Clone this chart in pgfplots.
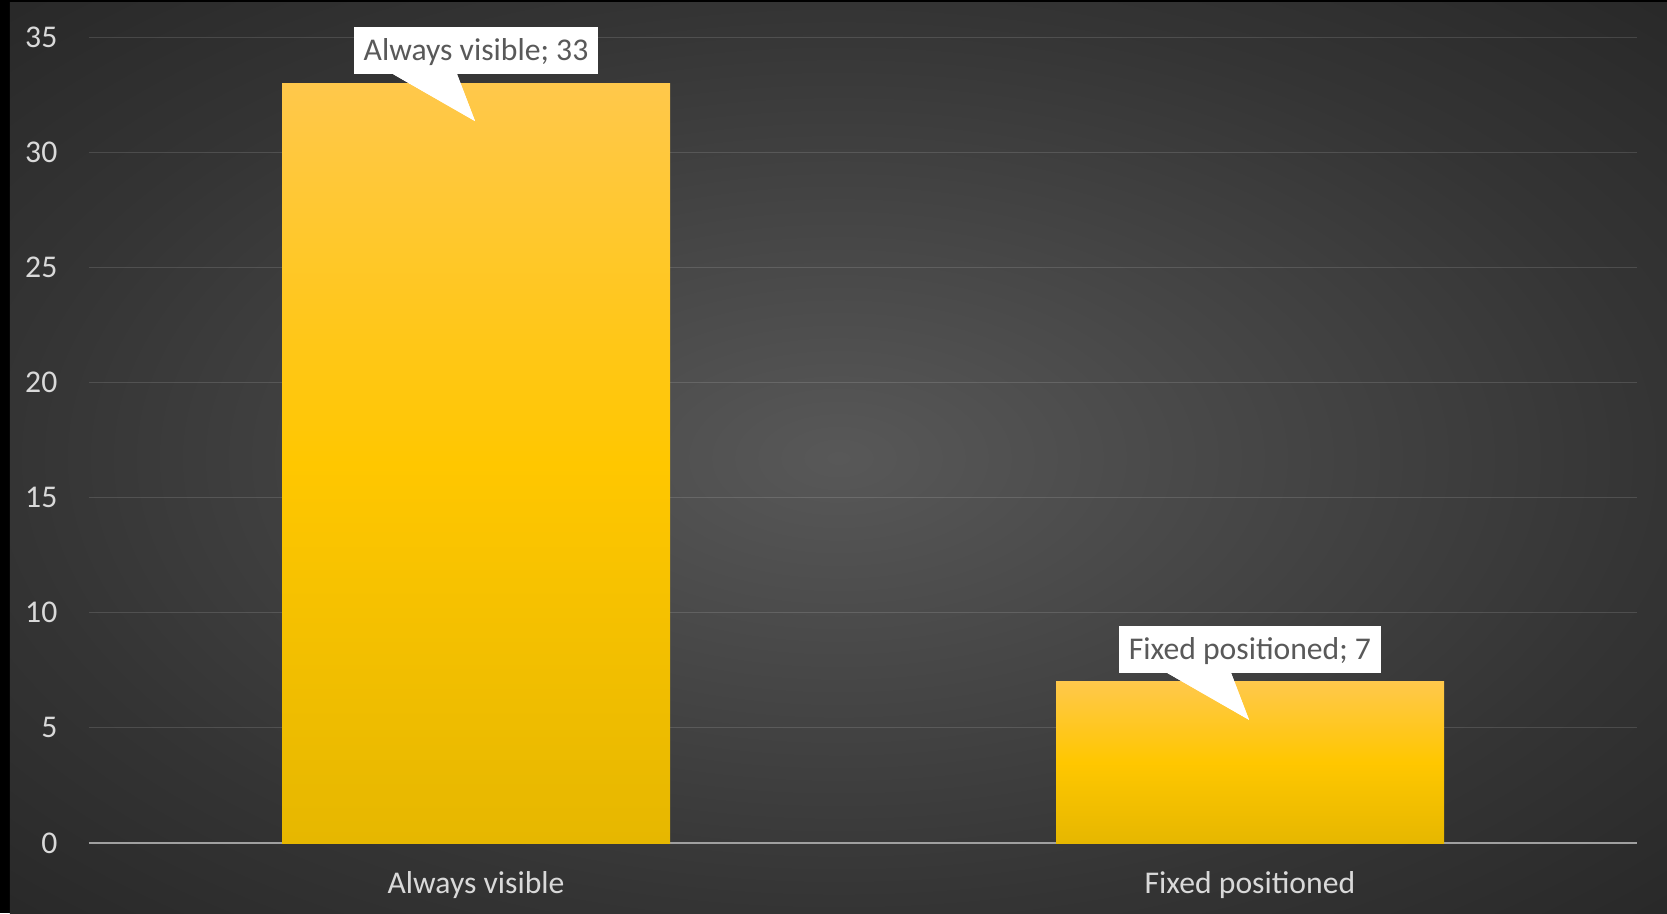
\documentclass[border=0pt]{standalone}
\usepackage{fontspec}
\setmainfont{Carlito}
\usepackage{pgfplots}
\pgfplotsset{compat=1.18}
\definecolor{bgin}{HTML}{585858}
\definecolor{bgmid}{HTML}{343434}
\definecolor{bgout}{HTML}{282828}
\definecolor{ticktext}{HTML}{D9D9D9}
\definecolor{calltext}{HTML}{595959}
\definecolor{bartop}{HTML}{FFC84B}
\definecolor{barmid}{HTML}{FFC700}
\definecolor{barbot}{HTML}{E6B700}
\definecolor{zeroline}{HTML}{A0A0A0}
\pgfdeclareradialshading{bgshade}{\pgfpointorigin}{color(0bp)=(bgin); color(25bp)=(bgmid); color(36bp)=(bgout); color(50bp)=(bgout)}
\pgfplotsset{
  mybar/.style={ybar, bar width=116.4pt, bar shift=0pt, draw=none,
    top color=bartop, bottom color=barbot, middle color=barmid,
    point meta=y,
    every node near coord/.append style={
      anchor=south, yshift=2.4pt,
      fill=white, text=calltext, font=\fontsize{9.5}{11}\selectfont,
      inner xsep=3pt, inner ysep=4.05pt, text height=6.1pt, text depth=0pt,
      append after command={\pgfextra{\path[top color=white, bottom color=white, middle color=white, fill=white] ([shift={(-24.9pt,0.3pt)}]\tikzlastnode.south) -- ([shift={(-5.7pt,0.3pt)}]\tikzlastnode.south) -- ([shift={(-0.3pt,-13.8pt)}]\tikzlastnode.south) -- cycle;}}
    }},
}
\begin{document}
\begin{tikzpicture}
\fill[black] (-26.7pt,-21pt) rectangle (473.4pt,252.9pt);
\shade[shading=bgshade] (-23.7pt,-21pt) rectangle (473.4pt,252pt);
\begin{axis}[
  at={(0,0)}, anchor=south west,
  scale only axis, width=464.4pt, height=241.8pt,
  xmin=-0.5, xmax=1.5, ymin=0, ymax=35,
  xtick={0,1}, xticklabels={Always visible, Fixed positioned},
  ytick={0,5,...,35},
  axis line style={draw=none},
  major tick length=0pt,
  ymajorgrids, grid style={draw=white, draw opacity=0.13, line width=0.3pt},
  extra y ticks={0}, extra y tick labels={},
  extra y tick style={grid style={draw=zeroline, draw opacity=1, line width=0.6pt}},
  tick label style={font=\fontsize{9.5}{11}\selectfont, text=ticktext},
  xticklabel style={anchor=base, yshift=-15pt},
  yticklabel style={anchor=east, inner sep=0pt, xshift=-9.3pt},
  /pgf/number format/assume math mode=true,
]
\addplot[mybar, nodes near coords={Always visible; \pgfmathprintnumber{\pgfplotspointmeta}}]
  coordinates {(0,33)};
\addplot[mybar, nodes near coords={Fixed positioned; \pgfmathprintnumber{\pgfplotspointmeta}}]
  coordinates {(1,7)};
\end{axis}
\pgfresetboundingbox
\useasboundingbox (-26.7pt,-21pt) rectangle (473.4pt,252.9pt);
\end{tikzpicture}
\end{document}
